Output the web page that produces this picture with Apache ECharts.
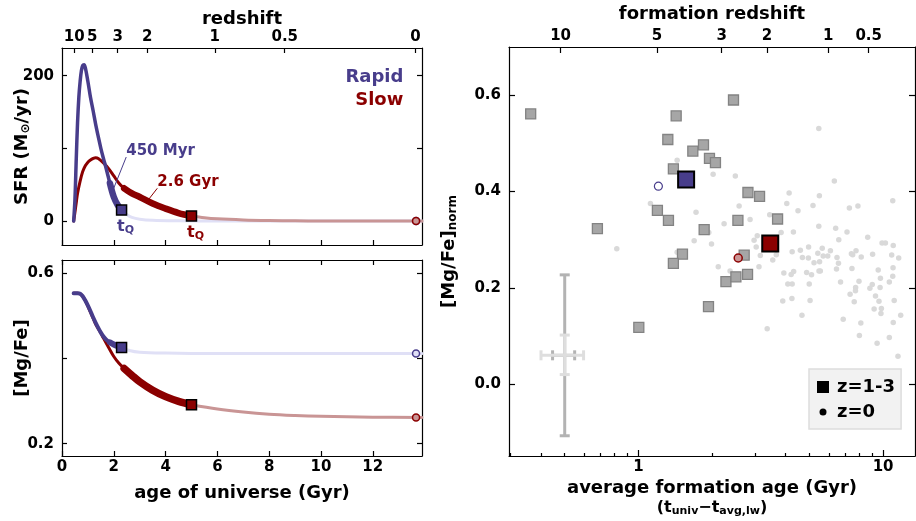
<!DOCTYPE html>
<html>
<head>
<meta charset="utf-8">
<script src="https://cdn.jsdelivr.net/npm/echarts@6/dist/echarts.min.js"></script>
<style>
  html, body { margin: 0; padding: 0; background: #fff; }
  #main { width: 916px; height: 521px; }
</style>
</head>
<body>
<div id="main"></div>
<script>
// ---- left panels: model star formation histories (age of universe, Gyr) ----
var rapidAge = [0.45, 0.5, 0.55, 0.6, 0.65, 0.7, 0.75, 0.8, 0.85, 0.9, 1.0, 1.1, 1.2, 1.3, 1.4, 1.5, 1.6, 1.7, 1.85, 2.0, 2.15, 2.3];
var rapidSfr = [0, 30, 85, 135, 170, 192, 207, 214, 215, 211, 192, 170, 152, 133, 116, 100, 86, 73, 52, 33, 22, 15];
var rapidAfterAge = [2.3, 2.5, 2.7, 3.0, 3.5, 4.5, 6, 8, 10, 12, 13.9];
var rapidAfterSfr = [15, 9, 5, 2.5, 1, 0.3, 0, 0, 0, 0, 0];
var slowAge = [0.45, 0.5, 0.55, 0.6, 0.7, 0.8, 0.9, 1.0, 1.1, 1.2, 1.3, 1.4, 1.6, 1.8, 2.0, 2.2, 2.4, 2.7, 3.0, 3.5, 4.0, 4.5, 5.0];
var slowSfr = [0, 12, 25, 38, 55, 68, 76, 81, 84, 86, 87, 86, 80, 72, 62, 52, 45, 38, 33, 24, 17, 11, 7];
var slowAfterAge = [5.0, 5.5, 6, 7, 8, 9, 10, 12, 13.9];
var slowAfterSfr = [7, 4.5, 3, 1.5, 0.7, 0.3, 0.1, 0, 0];

var rapidMgAge = [0.45, 0.6, 0.7, 0.8, 0.9, 1.0, 1.1, 1.2, 1.3, 1.4, 1.5, 1.6, 1.7, 1.85, 2.0, 2.15, 2.3];
var rapidMg = [0.552, 0.552, 0.551, 0.545, 0.535, 0.523, 0.51, 0.496, 0.483, 0.471, 0.46, 0.451, 0.444, 0.437, 0.432, 0.428, 0.425];
var rapidMgAfterAge = [2.3, 2.6, 3.0, 4, 6, 9, 13.9];
var rapidMgAfter = [0.425, 0.418, 0.414, 0.412, 0.411, 0.411, 0.411];
var slowMgAge = [0.45, 0.6, 0.7, 0.8, 0.9, 1.0, 1.1, 1.2, 1.3, 1.4, 1.5, 1.6, 1.8, 2.0, 2.2, 2.4, 2.7, 3.0, 3.5, 4.0, 4.5, 5.0];
var slowMg = [0.552, 0.552, 0.551, 0.545, 0.535, 0.522, 0.508, 0.494, 0.48, 0.469, 0.459, 0.447, 0.425, 0.404, 0.388, 0.376, 0.36, 0.345, 0.325, 0.31, 0.299, 0.291];
var slowMgAfterAge = [5.0, 6, 7, 8, 9, 10, 11, 12, 13.9];
var slowMgAfter = [0.291, 0.281, 0.274, 0.269, 0.266, 0.264, 0.263, 0.262, 0.261];

var rapidWindow = [1.85, 2.3];   // last 450 Myr before quenching
var slowWindow = [2.4, 5.0];     // last 2.6 Gyr before quenching
var z0Age = 13.67;
var z0Sfr = [0, 0];              // rapid, slow
var z0Mg = [0.411, 0.261];       // rapid, slow

var ageTicks = [0, 2, 4, 6, 8, 10, 12];
var zTickLabels = ['10', '5', '3', '2', '1', '0.5', '0'];
var zTickAges = [0.47, 1.17, 2.15, 3.29, 5.9, 8.6, 13.65];
var sfrTicks = [0, 100, 200];
var sfrLabels = [0, 200];
var mgTicks = [0.2, 0.4, 0.6];
var mgLabels = [0.2, 0.6];

// ---- right panel: [Mg/Fe]_norm vs average formation age ----
var sqAge = [0.363, 1.427, 1.319, 1.669, 1.845, 1.952, 2.065, 2.447, 1.39, 1.196, 1.327, 0.68, 1.857, 2.803, 3.127, 2.551, 3.705, 1.514, 1.39, 2.706, 2.279, 2.503, 2.793, 1.934, 1.004];
var sqMg = [0.561, 0.557, 0.508, 0.484, 0.497, 0.469, 0.460, 0.590, 0.447, 0.361, 0.340, 0.323, 0.321, 0.398, 0.390, 0.340, 0.343, 0.270, 0.251, 0.268, 0.213, 0.223, 0.228, 0.161, 0.118];

var dotAge = [
  5.46, 1.44, 2.02, 2.49, 6.32, 4.13, 5.49, 1.12, 4.04, 5.17,
  7.28, 7.89, 10.95, 4.49, 1.72, 2.58, 2.86, 2.24, 3.44, 5.46,
  6.40, 7.12, 4.30, 3.83, 1.94, 0.816, 1.69, 1.99, 3.06, 2.97,
  3.03, 8.65, 6.59, 9.90, 10.22, 11.0, 4.96, 5.64, 4.59, 4.25,
  6.09, 7.75, 7.42, 9.06, 3.15, 3.66, 4.68, 4.95, 5.41, 5.94,
  5.69, 5.22, 5.50, 5.54, 6.48, 6.57, 7.51, 8.14, 10.84, 11.58,
  3.54, 3.11, 3.93, 4.21, 4.31, 4.87, 5.10, 5.47, 6.45, 7.46,
  9.55, 10.98, 4.08, 4.25, 4.99, 6.70, 7.97, 7.72, 7.71, 7.33,
  9.03, 8.83, 9.75, 10.6, 10.95, 9.72, 9.31, 9.62, 11.1, 3.89,
  4.24, 5.03, 7.62, 9.19, 9.84, 9.80, 11.8, 4.66, 6.87, 8.11,
  11.0, 3.36, 8.0, 10.6, 9.45, 11.5, 2.12, 2.37, 1.44
];
var dotMg = [
  0.531, 0.465, 0.436, 0.432, 0.422, 0.397, 0.391, 0.375, 0.375, 0.371,
  0.366, 0.370, 0.381, 0.360, 0.357, 0.370, 0.342, 0.333, 0.352, 0.328,
  0.324, 0.316, 0.316, 0.315, 0.315, 0.281, 0.298, 0.291, 0.308, 0.299,
  0.285, 0.305, 0.300, 0.293, 0.293, 0.288, 0.285, 0.282, 0.278, 0.275,
  0.277, 0.277, 0.271, 0.270, 0.267, 0.269, 0.263, 0.262, 0.272, 0.266,
  0.266, 0.252, 0.254, 0.235, 0.263, 0.251, 0.269, 0.264, 0.268, 0.262,
  0.258, 0.244, 0.231, 0.228, 0.234, 0.232, 0.227, 0.235, 0.239, 0.240,
  0.237, 0.242, 0.208, 0.208, 0.208, 0.212, 0.214, 0.201, 0.194, 0.187,
  0.207, 0.199, 0.220, 0.212, 0.224, 0.201, 0.183, 0.172, 0.174, 0.173,
  0.178, 0.174, 0.171, 0.156, 0.157, 0.147, 0.143, 0.143, 0.135, 0.127,
  0.128, 0.115, 0.101, 0.097, 0.085, 0.058, 0.244, 0.235, 0.274
];

var modelSqAge = [1.567, 3.458];   // rapid, slow
var modelSqMg = [0.425, 0.292];
var modelZ0Age = [1.207, 2.558];
var modelZ0Mg = [0.411, 0.262];

// typical errors: [x, y, xlo, xhi, ylo, yhi]
var errDark = [0.5, 0.06, 0.446, 0.549, -0.107, 0.227];
var errLight = [0.5, 0.06, 0.40, 0.597, 0.020, 0.102];

var ageMajor = [1, 10];
var ageMinor = [0.3, 0.4, 0.5, 0.6, 0.7, 0.8, 0.9, 2, 3, 4, 5, 6, 7, 8, 9];
var fzLabels = ['10', '5', '3', '2', '1', '0.5'];
var fzAges = [0.481, 1.19, 2.19, 3.35, 5.96, 8.73];
var normTicks = [0, 0.2, 0.4, 0.6];

var BLUE = '#483D8B', RED = '#8B0000';
var BLUE_FADE = '#e0e0f6', RED_FADE = '#c99595';
var FONT = 'DejaVu Sans';

function pairs(xs, ys) {
  return xs.map(function (x, i) { return [x, ys[i]]; });
}
function within(xs, ys, w) {
  return pairs(xs, ys).filter(function (p) { return p[0] >= w[0] - 1e-9 && p[0] <= w[1] + 1e-9; });
}
function last(a) { return a[a.length - 1]; }
function lookup(vals, labels) {
  return function (v) {
    var best = 0;
    for (var i = 1; i < vals.length; i++) {
      if (Math.abs(vals[i] - v) < Math.abs(vals[best] - v)) best = i;
    }
    return labels[best];
  };
}

var LINE = {color: '#000', width: 1.2};
function ticks(vals, len) {
  return {show: true, inside: true, length: len || 5, lineStyle: LINE, customValues: vals};
}
function labels(vals, margin, fmt) {
  var l = {show: true, customValues: vals, margin: margin, fontFamily: FONT, fontWeight: 'bold', fontSize: 15, color: '#000'};
  if (fmt) l.formatter = fmt;
  return l;
}
var nameStyle = {fontFamily: FONT, fontWeight: 'bold', fontSize: 18, color: '#000'};

function axis(o) {
  var a = {
    axisLine: {show: true, onZero: false, lineStyle: LINE},
    axisLabel: {show: false},
    splitLine: {show: false},
    nameMoveOverlap: false
  };
  for (var k in o) a[k] = o[k];
  return a;
}

function line(xi, yi, data, color, width, z) {
  return {
    type: 'line', xAxisIndex: xi, yAxisIndex: yi, data: data,
    showSymbol: false, smooth: 0.35, silent: true, z: z,
    lineStyle: {color: color, width: width, join: 'round', cap: 'round'}
  };
}
function marks(xi, yi, data, symbol, size, color, border, bw, z, name) {
  return {
    type: 'scatter', name: name, xAxisIndex: xi, yAxisIndex: yi, data: data,
    symbol: symbol, symbolSize: size, silent: true, z: z,
    itemStyle: {color: color, borderColor: border, borderWidth: bw, opacity: 1}
  };
}
function errorBar(color, width, capHalf) {
  return function (params, api) {
    var c = api.coord([api.value(0), api.value(1)]);
    var xl = api.coord([api.value(2), api.value(1)]);
    var xh = api.coord([api.value(3), api.value(1)]);
    var yl = api.coord([api.value(0), api.value(4)]);
    var yh = api.coord([api.value(0), api.value(5)]);
    var st = {stroke: color, lineWidth: width};
    function seg(x1, y1, x2, y2) {
      return {type: 'line', shape: {x1: x1, y1: y1, x2: x2, y2: y2}, style: st};
    }
    return {type: 'group', children: [
      seg(xl[0], c[1], xh[0], c[1]),
      seg(c[0], yl[1], c[0], yh[1]),
      seg(xl[0], c[1] - capHalf, xl[0], c[1] + capHalf),
      seg(xh[0], c[1] - capHalf, xh[0], c[1] + capHalf),
      seg(c[0] - capHalf, yl[1], c[0] + capHalf, yl[1]),
      seg(c[0] - capHalf, yh[1], c[0] + capHalf, yh[1])
    ]};
  };
}

var chart = echarts.init(document.getElementById('main'), null, {renderer: 'canvas'});

var option = {
  animation: false,
  backgroundColor: '#fff',
  textStyle: {fontFamily: FONT},
  grid: [
    {left: 62, top: 48, width: 360, height: 197, outerBoundsMode: 'none'},
    {left: 62, top: 260, width: 360, height: 196, outerBoundsMode: 'none'},
    {left: 509, top: 47, width: 406, height: 409, outerBoundsMode: 'none'}
  ],
  legend: {
    orient: 'vertical', left: 809, top: 369,
    data: [
      {name: 'z=1-3', icon: 'rect', itemStyle: {color: '#000', borderWidth: 0}},
      {name: 'z=0', icon: 'path://M0,0M12,12M6,2.5a3.5,3.5 0 1,1 0,7a3.5,3.5 0 1,1 0,-7z', itemStyle: {color: '#000', borderWidth: 0}}
    ],
    itemWidth: 12, itemHeight: 12, itemGap: 7,
    padding: [9, 6, 8, 8],
    backgroundColor: '#f2f2f2', borderColor: '#dddddd', borderWidth: 1.5,
    selectedMode: false,
    textStyle: {fontFamily: FONT, fontWeight: 'bold', fontSize: 18, color: '#000', padding: [0, 0, 0, 3]}
  },
  xAxis: [
    axis({gridIndex: 0, type: 'value', min: 0, max: 13.9, position: 'bottom', axisTick: ticks(ageTicks)}),
    axis({gridIndex: 0, type: 'value', min: 0, max: 13.9, position: 'top', axisTick: ticks(zTickAges),
      axisLabel: labels(zTickAges, 3, lookup(zTickAges, zTickLabels)),
      name: 'redshift', nameLocation: 'middle', nameGap: 20, nameTextStyle: nameStyle}),
    axis({gridIndex: 1, type: 'value', min: 0, max: 13.9, position: 'bottom', axisTick: ticks(ageTicks),
      axisLabel: labels(ageTicks, 4),
      name: 'age of universe (Gyr)', nameLocation: 'middle', nameGap: 28, nameTextStyle: nameStyle}),
    axis({gridIndex: 1, type: 'value', min: 0, max: 13.9, position: 'top', axisTick: ticks(ageTicks)}),
    axis({gridIndex: 2, type: 'log', logBase: 10, min: 0.296, max: 13.5, position: 'bottom', axisTick: ticks(ageMajor, 6),
      axisLabel: labels(ageMajor, 4),
      name: '{a|average formation age (Gyr)}\n{b|(t}{s|univ}{b|\u2212t}{s|avg,lw}{b|)}',
      nameLocation: 'middle', nameGap: 22,
      nameTextStyle: {fontFamily: FONT, fontWeight: 'bold', color: '#000', rich: {
        a: {fontFamily: FONT, fontWeight: 'bold', fontSize: 18, color: '#000', lineHeight: 20},
        b: {fontFamily: FONT, fontWeight: 'bold', fontSize: 16, color: '#000', lineHeight: 18},
        s: {fontFamily: FONT, fontWeight: 'bold', fontSize: 11, color: '#000', padding: [8, 0, 0, 0]}
      }}}),
    axis({gridIndex: 2, type: 'log', logBase: 10, min: 0.296, max: 13.5, position: 'bottom',
      axisLine: {show: false, onZero: false}, axisTick: ticks(ageMinor, 3)}),
    axis({gridIndex: 2, type: 'log', logBase: 10, min: 0.296, max: 13.5, position: 'top', axisTick: ticks(fzAges, 6),
      axisLabel: labels(fzAges, 3, lookup(fzAges, fzLabels)),
      name: 'formation redshift', nameLocation: 'middle', nameGap: 24, nameTextStyle: nameStyle})
  ],
  yAxis: [
    axis({gridIndex: 0, type: 'value', min: -33, max: 238, position: 'left', axisTick: ticks(sfrTicks),
      axisLabel: labels(sfrLabels, 8),
      name: 'SFR (M{s|\u2299}/yr)', nameLocation: 'middle', nameRotate: 90, nameGap: 30,
      nameTextStyle: {fontFamily: FONT, fontWeight: 'bold', fontSize: 18, color: '#000', rich: {
        s: {fontFamily: FONT, fontWeight: 'bold', fontSize: 12, color: '#000', padding: [8, 0, 0, 0]}
      }}}),
    axis({gridIndex: 0, type: 'value', min: -33, max: 238, position: 'right', axisTick: ticks(sfrTicks)}),
    axis({gridIndex: 1, type: 'value', min: 0.171, max: 0.63, position: 'left', axisTick: ticks(mgTicks),
      axisLabel: labels(mgLabels, 8),
      name: '[Mg/Fe]', nameLocation: 'middle', nameRotate: 90, nameGap: 31, nameTextStyle: nameStyle}),
    axis({gridIndex: 1, type: 'value', min: 0.171, max: 0.63, position: 'right', axisTick: ticks(mgTicks)}),
    axis({gridIndex: 2, type: 'value', min: -0.149, max: 0.70, position: 'left', axisTick: ticks(normTicks, 6),
      axisLabel: labels(normTicks, 8, function (v) { return v.toFixed(1); }),
      name: '[Mg/Fe]{s|norm}', nameLocation: 'middle', nameRotate: 90, nameGap: 50,
      nameTextStyle: {fontFamily: FONT, fontWeight: 'bold', fontSize: 18, color: '#000', rich: {
        s: {fontFamily: FONT, fontWeight: 'bold', fontSize: 12, color: '#000', padding: [8, 0, 0, 0]}
      }}}),
    axis({gridIndex: 2, type: 'value', min: -0.149, max: 0.70, position: 'right', axisTick: ticks(normTicks, 6)})
  ],
  series: [
    // SFR panel
    line(0, 0, pairs(rapidAfterAge, rapidAfterSfr), BLUE_FADE, 3, 2),
    line(0, 0, pairs(slowAfterAge, slowAfterSfr), RED_FADE, 3, 2),
    line(0, 0, pairs(slowAge, slowSfr), RED, 3, 3),
    line(0, 0, within(slowAge, slowSfr, slowWindow), RED, 6.5, 3),
    line(0, 0, pairs(rapidAge, rapidSfr), BLUE, 3.5, 4),
    line(0, 0, within(rapidAge, rapidSfr, rapidWindow), BLUE, 6.5, 4),
    marks(0, 0, [[z0Age, z0Sfr[0]]], 'circle', 7, BLUE_FADE, BLUE, 1.5, 6),
    marks(0, 0, [[z0Age, z0Sfr[1]]], 'circle', 7, RED_FADE, RED, 1.5, 6),
    marks(0, 0, [[last(rapidAge), last(rapidSfr)]], 'rect', 10, BLUE, '#000', 1.5, 7),
    marks(0, 0, [[last(slowAge), last(slowSfr)]], 'rect', 10, RED, '#000', 1.5, 7),
    // [Mg/Fe] panel
    line(2, 2, pairs(rapidMgAfterAge, rapidMgAfter), BLUE_FADE, 3, 2),
    line(2, 2, pairs(slowMgAfterAge, slowMgAfter), RED_FADE, 3, 2),
    line(2, 2, pairs(slowMgAge, slowMg), RED, 3, 3),
    line(2, 2, within(slowMgAge, slowMg, slowWindow), RED, 7.5, 3),
    line(2, 2, pairs(rapidMgAge, rapidMg), BLUE, 4, 4),
    line(2, 2, within(rapidMgAge, rapidMg, rapidWindow), BLUE, 6, 4),
    marks(2, 2, [[z0Age, z0Mg[0]]], 'circle', 7, BLUE_FADE, BLUE, 1.5, 6),
    marks(2, 2, [[z0Age, z0Mg[1]]], 'circle', 7, RED_FADE, RED, 1.5, 6),
    marks(2, 2, [[last(rapidMgAge), last(rapidMg)]], 'rect', 10, BLUE, '#000', 1.5, 7),
    marks(2, 2, [[last(slowMgAge), last(slowMg)]], 'rect', 10, RED, '#000', 1.5, 7),
    // observations
    {type: 'custom', xAxisIndex: 4, yAxisIndex: 4, silent: true, z: 1, data: [errDark],
      encode: {x: [0, 2, 3], y: [1, 4, 5]}, renderItem: errorBar('#b3b3b3', 3, 5)},
    {type: 'custom', xAxisIndex: 4, yAxisIndex: 4, silent: true, z: 1, data: [errLight],
      encode: {x: [0, 2, 3], y: [1, 4, 5]}, renderItem: errorBar('#dedede', 3, 5)},
    marks(4, 4, pairs(dotAge, dotMg), 'circle', 5.5, '#d9d9d9', '#d9d9d9', 0, 2, 'z=0'),
    marks(4, 4, pairs(sqAge, sqMg), 'rect', 10, '#a6a6a6', '#838383', 1.3, 3, 'z=1-3'),
    marks(4, 4, [[modelZ0Age[0], modelZ0Mg[0]]], 'circle', 8, '#ffffff', BLUE, 1.2, 4),
    marks(4, 4, [[modelZ0Age[1], modelZ0Mg[1]]], 'circle', 8, RED_FADE, RED, 1.5, 4),
    marks(4, 4, [[modelSqAge[0], modelSqMg[0]]], 'rect', 16, BLUE, '#000', 2, 5),
    marks(4, 4, [[modelSqAge[1], modelSqMg[1]]], 'rect', 16, RED, '#000', 2, 5)
  ]
};

chart.setOption(option);

// annotations placed in data coordinates of the SFR panel
function at(p) { return chart.convertToPixel({xAxisIndex: 0, yAxisIndex: 0}, p); }
function note(p, text, color, size, align) {
  var q = at(p);
  return {type: 'text', silent: true, z: 100, style: {
    x: q[0], y: q[1], text: text, fill: color, fontFamily: FONT, fontWeight: 'bold', fontSize: size,
    align: align, verticalAlign: 'middle'
  }};
}
function arrow(p1, p2, color) {
  var a = at(p1), b = at(p2);
  return {type: 'line', silent: true, z: 100, shape: {x1: a[0], y1: a[1], x2: b[0], y2: b[1]},
    style: {stroke: color, lineWidth: 1}};
}
function tq(p, color) {
  var q = at(p);
  return {type: 'text', silent: true, z: 100, style: {
    x: q[0] + 4, y: q[1] + 7, text: 't{q|Q}', fill: color, fontFamily: FONT, fontWeight: 'bold', fontSize: 16,
    align: 'center', verticalAlign: 'top',
    rich: {q: {fill: color, fontFamily: FONT, fontWeight: 'bold', fontSize: 11, padding: [8, 0, 0, 0]}}
  }};
}

chart.setOption({graphic: [
  note([13.18, 197], 'Rapid', BLUE, 18, 'right'),
  note([13.18, 166.5], 'Slow', RED, 18, 'right'),
  note([2.48, 96], '450 Myr', BLUE, 15, 'left'),
  note([3.68, 53.7], '2.6 Gyr', RED, 15, 'left'),
  arrow([2.48, 88], [1.94, 40], BLUE),
  arrow([3.68, 45], [3.33, 29], RED),
  tq([last(rapidAge), last(rapidSfr)], BLUE),
  tq([last(slowAge), last(slowSfr)], RED)
]});
</script>
</body>
</html>
